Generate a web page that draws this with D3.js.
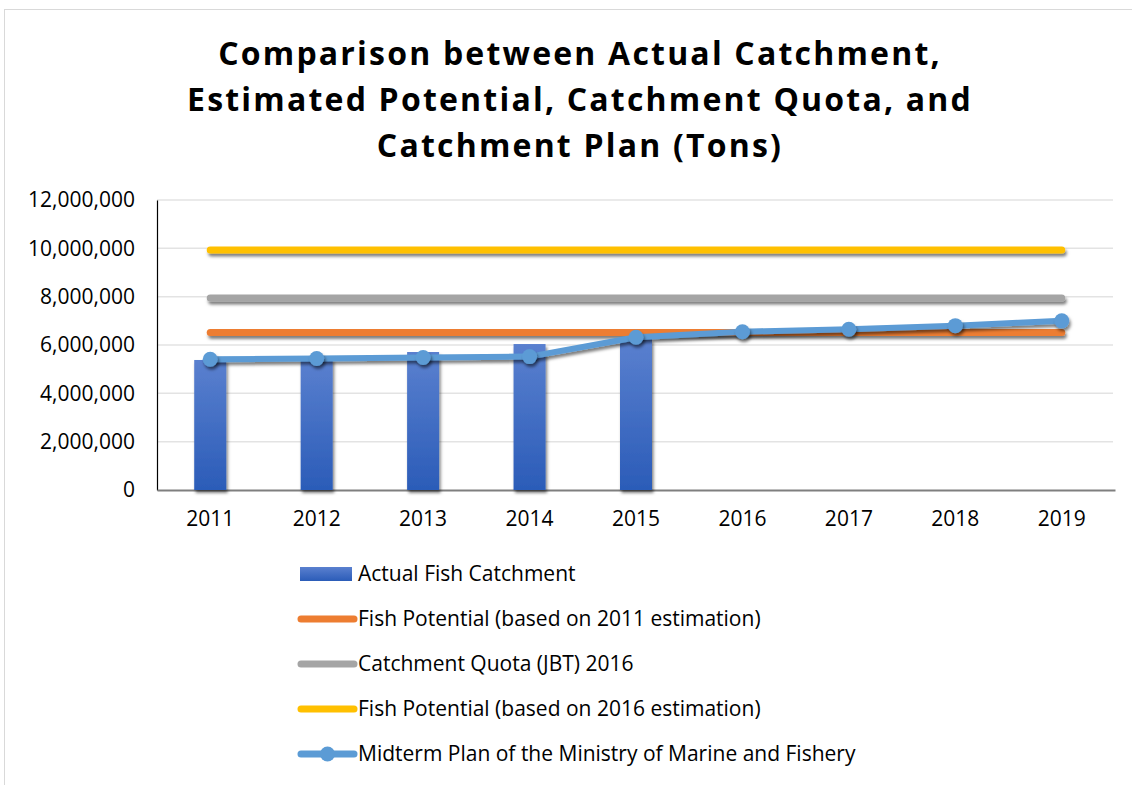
<!DOCTYPE html>
<html><head><meta charset="utf-8">
<script src="https://cdn.jsdelivr.net/npm/d3@7"></script>
<style>body{margin:0;background:#fff;} text{font-family:"Open Sans",sans-serif;}</style>
</head><body>
<svg id="c" width="1132" height="785"></svg>
<script>
const years = ["2011","2012","2013","2014","2015","2016","2017","2018","2019"];
const actualCatch = [5380000, 5440000, 5710000, 6040000, 6250000, null, null, null, null];
const potential2011 = [6520000, 6520000, 6520000, 6520000, 6520000, 6520000, 6520000, 6520000, 6520000];
const quotaJBT2016 = [7950000, 7950000, 7950000, 7950000, 7950000, 7950000, 7950000, 7950000, 7950000];
const potential2016 = [9930000, 9930000, 9930000, 9930000, 9930000, 9930000, 9930000, 9930000, 9930000];
const midtermPlan = [5410000, 5440000, 5480000, 5520000, 6320000, 6550000, 6650000, 6800000, 7000000];
const yTicks = [0, 2000000, 4000000, 6000000, 8000000, 10000000, 12000000];
const titleLines = ["Comparison between Actual Catchment,", "Estimated Potential, Catchment Quota, and", "Catchment Plan (Tons)"];
const legendLabels = ["Actual Fish Catchment", "Fish Potential (based on 2011 estimation)", "Catchment Quota (JBT) 2016", "Fish Potential (based on 2016 estimation)", "Midterm Plan of the Ministry of Marine and Fishery"];

(function(){
const svg = d3.select("#c");
const defs = svg.append("defs");
const grad = defs.append("linearGradient").attr("id","barGrad").attr("x1",0).attr("y1",0).attr("x2",0).attr("y2",1);
grad.append("stop").attr("offset","0%").attr("stop-color","#5a80cf");
grad.append("stop").attr("offset","100%").attr("stop-color","#2b5cb8");
const sh = defs.append("filter").attr("id","shadow").attr("filterUnits","userSpaceOnUse")
  .attr("x",0).attr("y",0).attr("width",1132).attr("height",785);
sh.append("feDropShadow").attr("dx",1.5).attr("dy",3).attr("stdDeviation",1.6).attr("flood-color","#000").attr("flood-opacity",0.5);

svg.append("rect").attr("x",4.5).attr("y",9.5).attr("width",1140).attr("height",800).attr("fill","none").attr("stroke","#d9d9d9");

const pL = 157, pR = 1115, pT = 200, pB = 490;
const x = d3.scaleBand().domain(years).range([pL, pR]);
const y = d3.scaleLinear().domain([0, 12000000]).range([pB, pT]);
const cx = d => x(d) + x.bandwidth()/2;

svg.append("g").selectAll("text").data(titleLines).join("text")
  .attr("x", 580).attr("y", (d,i)=> 65 + i*46)
  .attr("text-anchor","middle").attr("font-size",32).attr("font-weight","bold")
  .attr("letter-spacing",2.2).attr("fill","#000").text(d=>d);

svg.append("g").selectAll("line").data(yTicks.slice(1)).join("line")
  .attr("x1",pL).attr("x2",pR-2).attr("y1",d=>y(d)).attr("y2",d=>y(d))
  .attr("stroke","#e3e3e3").attr("stroke-width",1.5);

const yAxis = svg.append("g").attr("transform",`translate(${pL},0)`)
  .call(d3.axisLeft(y).tickValues(yTicks).tickSize(0).tickPadding(22).tickFormat(d3.format(",")));
yAxis.select(".domain").attr("stroke","#000").attr("stroke-width",1.2);
yAxis.selectAll("text").attr("font-size",21).attr("fill","#000").attr("font-family","'Open Sans',sans-serif");

const xAxis = svg.append("g").attr("transform",`translate(0,${pB})`)
  .call(d3.axisBottom(x).tickSize(0).tickPadding(21));
xAxis.select(".domain").attr("stroke","#7f7f7f").attr("stroke-width",2);
xAxis.selectAll("text").attr("font-size",21).attr("fill","#000").attr("font-family","'Open Sans',sans-serif");

const barW = 32;
svg.append("g").selectAll("rect").data(years.map((yr,i)=>({yr, v:actualCatch[i]})).filter(d=>d.v!=null)).join("rect")
  .attr("x",d=>cx(d.yr)-barW/2).attr("width",barW)
  .attr("y",d=>y(d.v)).attr("height",d=>pB-y(d.v))
  .attr("fill","url(#barGrad)").attr("filter","url(#shadow)");

const lineGen = d3.line().x((d,i)=>cx(years[i])).y(d=>y(d));
const refs = [[potential2011,"#ed7d31"],[quotaJBT2016,"#a5a5a5"],[potential2016,"#ffc000"]];
refs.forEach(([arr,col])=>{
  svg.append("path").datum(arr).attr("d",lineGen).attr("fill","none")
    .attr("stroke",col).attr("stroke-width",7).attr("stroke-linecap","round").attr("filter","url(#shadow)");
});

svg.append("path").datum(midtermPlan).attr("d",lineGen).attr("fill","none")
  .attr("stroke","#5b9bd5").attr("stroke-width",6).attr("stroke-linejoin","round").attr("filter","url(#shadow)");
svg.append("g").selectAll("circle").data(midtermPlan).join("circle")
  .attr("cx",(d,i)=>cx(years[i])).attr("cy",d=>y(d)).attr("r",7.5)
  .attr("fill","#5b9bd5").attr("filter","url(#shadow)");

const lg = svg.append("g");
const lx = 300, lw = 55, ly0 = 574, ldy = 45;
legendLabels.forEach((lab,i)=>{
  const yy = ly0 + i*ldy;
  if(i===0){
    lg.append("rect").attr("x",lx).attr("y",yy-7).attr("width",52).attr("height",14).attr("fill","url(#barGrad)");
  } else {
    const col = ["#ed7d31","#a5a5a5","#ffc000","#5b9bd5"][i-1];
    lg.append("line").attr("x1",lx+1).attr("x2",lx+lw-1).attr("y1",yy).attr("y2",yy)
      .attr("stroke",col).attr("stroke-width",7).attr("stroke-linecap","round");
    if(i===4) lg.append("circle").attr("cx",lx+lw/2).attr("cy",yy).attr("r",7.5).attr("fill",col);
  }
  lg.append("text").attr("x",358).attr("y",yy).attr("dy","0.35em").attr("font-size",21).attr("fill","#000").text(lab);
});
})();
</script>
</body></html>
